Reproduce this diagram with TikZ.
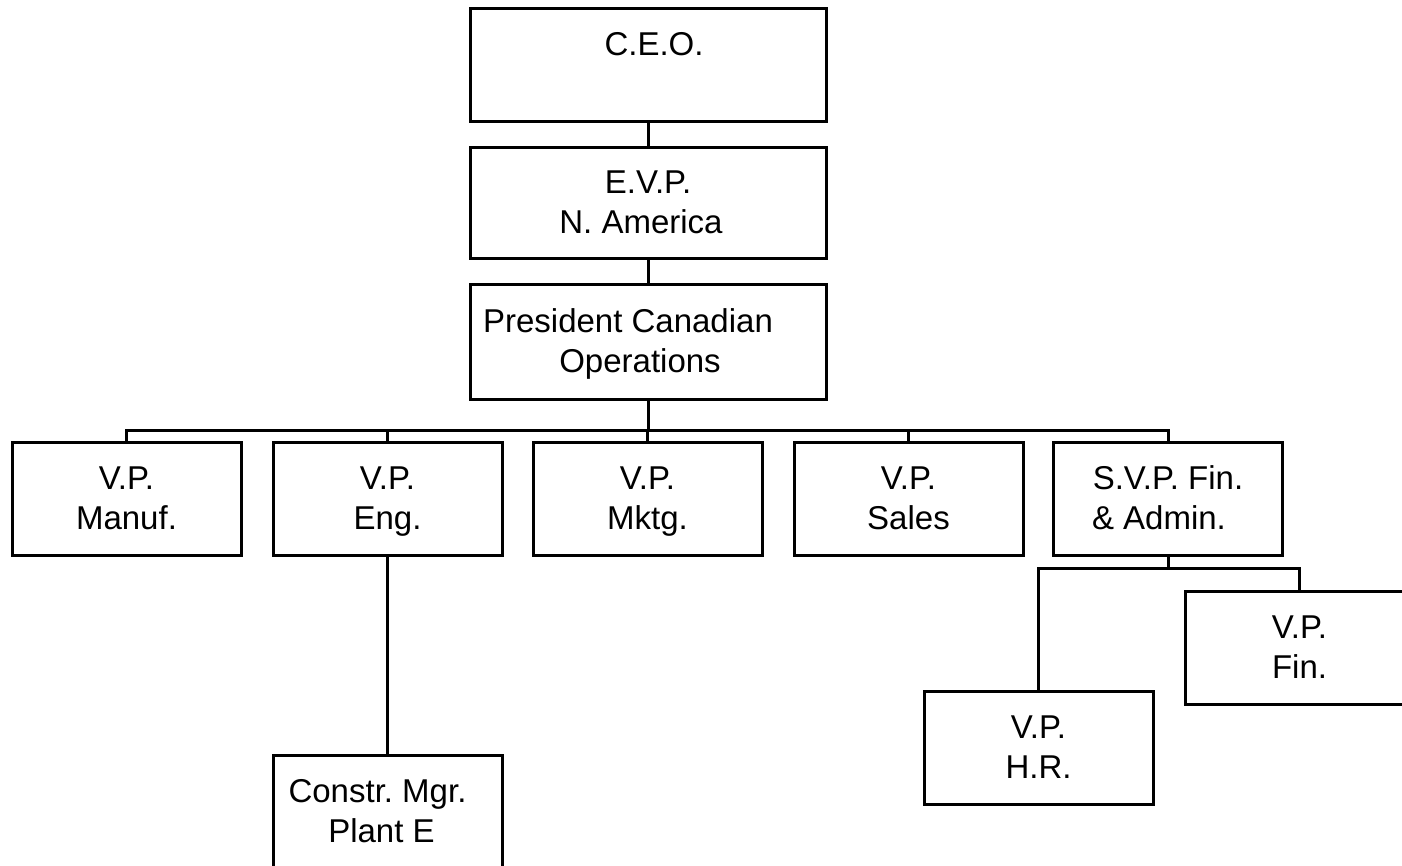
\documentclass[tikz,border=0pt]{standalone}
\usepackage{fontspec}
\setmainfont{Liberation Sans}
\begin{document}
\frenchspacing
\begin{tikzpicture}[x=1pt,y=-1pt,line width=3pt,
  box/.style={draw,rectangle,inner sep=0pt,outer sep=0pt,align=center,
    font=\fontsize{33}{40}\selectfont,
    execute at begin node={\rule{0pt}{70pt}},
    execute at end node={\rule[-9pt]{0pt}{10pt}}},
  wide/.style={box,minimum width=356pt},
  unit/.style={box,minimum width=229pt,minimum height=113pt}]
\useasboundingbox (0,0) rectangle (1402,866);
\clip (0,0) rectangle (1402,866);

% executive chain
\node[wide,minimum height=113pt] (ceo)  at (648,65.5)  {\hspace*{12pt}C.E.O.\\};
\node[wide,minimum height=111pt] (evp)  at (648,203.5) {E.V.P.\\\hspace*{-14pt}N. America};
\node[wide,minimum height=114pt] (pres) at (648,342)
  {\hspace*{-40pt}President Canadian\\\hspace*{-16pt}Operations};

% vice-presidents
\node[unit] (manuf) at (126.5,498.5) {V.P.\\Manuf.};
\node[unit] (eng)   at (387.5,498.5) {V.P.\\Eng.};
\node[unit] (mktg)  at (647.5,498.5) {V.P.\\Mktg.};
\node[unit] (sales) at (908.5,498.5) {V.P.\\Sales};
\node[unit] (svp)   at (1168,498.5)  {S.V.P. Fin.\\\hspace*{-18pt}\& Admin.};

% second level
\node[unit] (hr)     at (1038.5,748) {V.P.\\H.R.};
\node[unit] (fin)    at (1299.5,648) {V.P.\\Fin.};
\node[unit] (constr) at (387.5,811.5)
  {\hspace*{-20pt}Constr. Mgr.\\\hspace*{-12pt}Plant E};

% connectors
\coordinate (bus) at (646,430);
\coordinate (subbus) at (1167,568);
\draw (ceo) -- (evp);
\draw (evp) -- (pres);
\draw (pres.south) -- (pres.south |- bus);
\foreach \n in {manuf,eng,mktg,sales,svp}
  \draw (pres.south |- bus) -| (\n.north);
\draw (svp.south) -- (svp.south |- subbus);
\foreach \n in {hr,fin}
  \draw (svp.south |- subbus) -| (\n.north);
\draw (eng) -- (constr);
\end{tikzpicture}
\end{document}
